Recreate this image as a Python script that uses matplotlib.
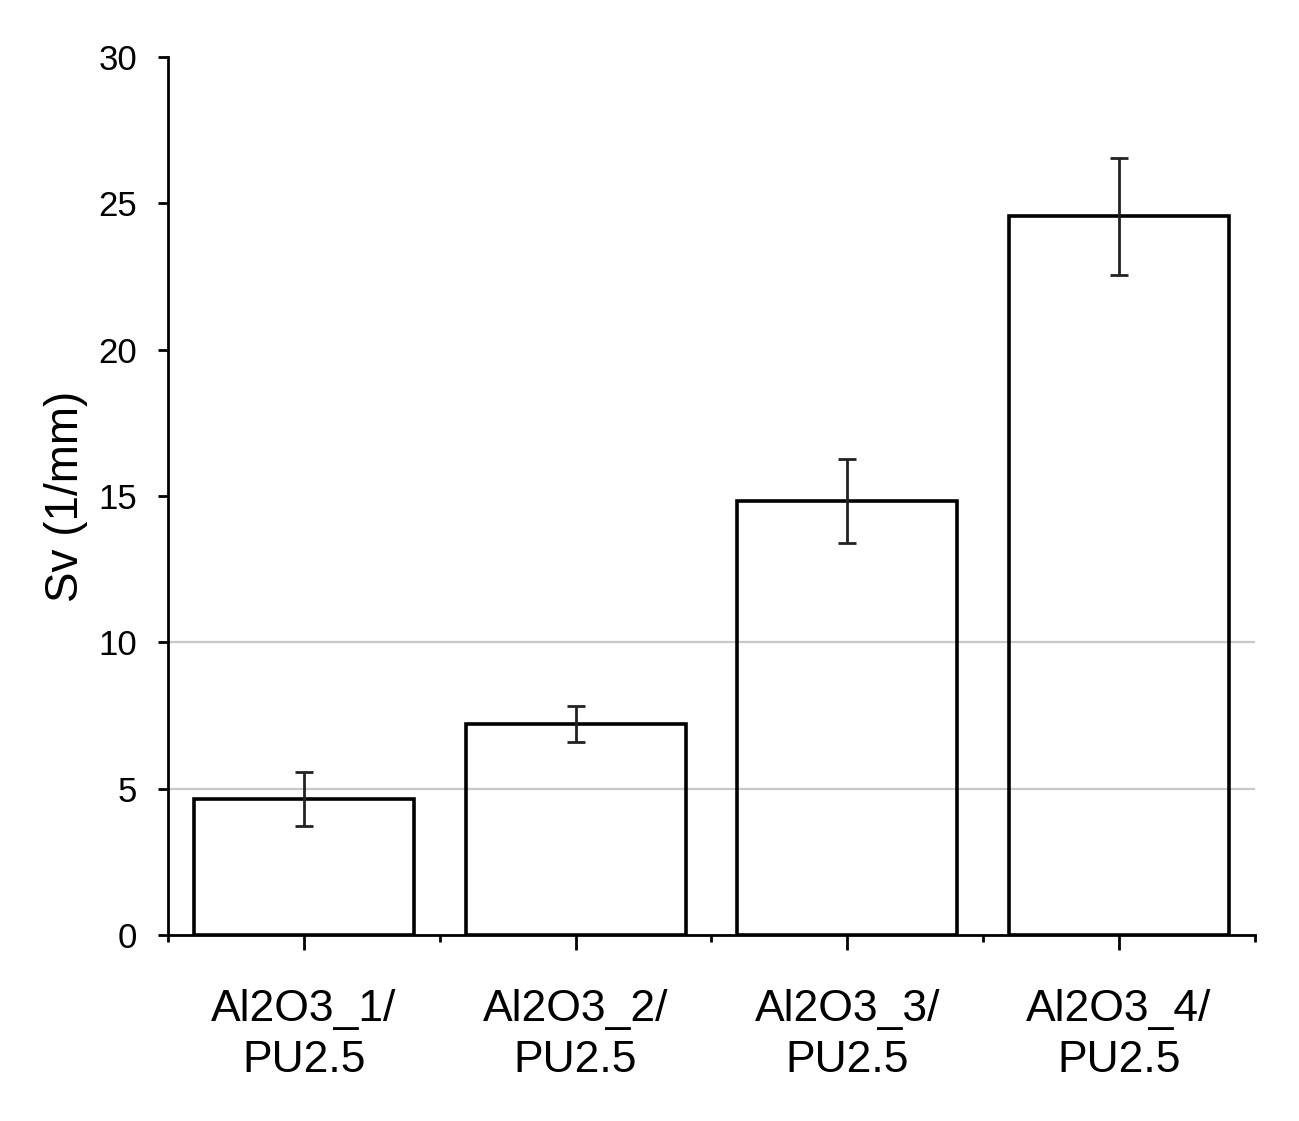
#!/usr/bin/env python3
"""Sv of Al2O3/PU2.5 samples: bar chart with error bars."""
import numpy as np
import matplotlib.pyplot as plt

plt.rcParams["font.family"] = ["Liberation Sans", "DejaVu Sans"]

# data
categories = ["Al2O3_1/\nPU2.5", "Al2O3_2/\nPU2.5", "Al2O3_3/\nPU2.5", "Al2O3_4/\nPU2.5"]
sv_mean = [4.65, 7.21, 14.83, 24.56]
sv_err = [0.93, 0.63, 1.43, 2.0]
y_ticks = [0, 5, 10, 15, 20, 25, 30]
grid_levels = [5, 10]

fig = plt.figure(figsize=(12.99, 11.21), dpi=100)
ax = fig.add_axes([0.1293, 0.1659, 0.9661 - 0.1293, 0.9492 - 0.1659])

x = np.arange(len(categories))

for g in grid_levels:
    ax.axhline(g, color="#c8c8c8", lw=1.6, zorder=1)

ax.bar(x, sv_mean, width=0.81, facecolor="none", edgecolor="black",
       linewidth=2.6, zorder=2)
ax.errorbar(x, sv_mean, yerr=sv_err, fmt="none", ecolor="#222222",
            elinewidth=2.0, capsize=6.5, capthick=2.0, zorder=3)

ax.set_xlim(-0.5, len(categories) - 0.5)
ax.set_ylim(0, 30)

ax.spines["top"].set_visible(False)
ax.spines["right"].set_visible(False)
ax.spines["left"].set_linewidth(2.0)
ax.spines["bottom"].set_linewidth(2.0)

ax.set_xticks(x)
ax.set_xticklabels(categories, fontsize=32, linespacing=1.3)
ax.set_xticks(np.arange(len(categories) + 1) - 0.5, minor=True)
ax.tick_params(axis="x", which="major", direction="out", length=11,
               width=2.0, pad=28)
ax.tick_params(axis="x", which="minor", direction="out", length=5, width=2.0)

ax.set_yticks(y_ticks)
ax.set_yticklabels([str(v) for v in y_ticks], fontsize=25)
ax.tick_params(axis="y", direction="out", length=7, width=2.0, pad=15)

ax.set_ylabel("Sv (1/mm)", fontsize=33, labelpad=8)

fig.savefig("out.png", dpi=100)
